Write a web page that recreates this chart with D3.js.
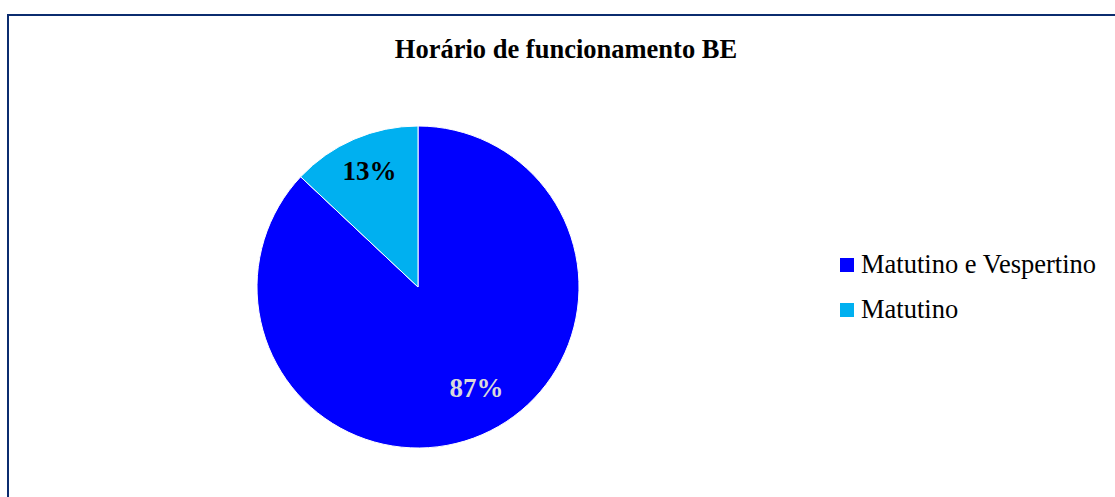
<!DOCTYPE html>
<html>
<head>
<meta charset="utf-8">
<script src="https://cdn.jsdelivr.net/npm/d3@7"></script>
<style>
  body { margin: 0; background: #fff; }
  text { font-family: "Liberation Serif", "Times New Roman", serif; }
</style>
</head>
<body>
<div id="chart"></div>
<script>
// Chart data
var categories = ["Matutino e Vespertino", "Matutino"];
var values = [87, 13];
var sliceColors = ["#0000ff", "#00b0f0"];
var labelColors = ["#d9d9d9", "#000000"];
var chartTitle = "Horário de funcionamento BE";

var svgW = 1115, svgH = 497;
var center = {x: 418, y: 287};
var radius = 161;

var svg = d3.select("#chart")
  .append("svg")
    .attr("width", svgW)
    .attr("height", svgH);

// Outer frame
svg.append("rect")
  .attr("x", 8)
  .attr("y", 15)
  .attr("width", svgW + 10)
  .attr("height", svgH + 10)
  .attr("fill", "white")
  .attr("stroke", "#0b2c6f")
  .attr("stroke-width", 2);

// Title
svg.append("text")
  .attr("x", 566)
  .attr("y", 58)
  .attr("text-anchor", "middle")
  .style("font-size", "26.5px")
  .style("font-weight", "bold")
  .text(chartTitle);

var data = categories.map(function(c, i) {
  return {cat: c, value: values[i], color: sliceColors[i], label: labelColors[i]};
});

var colorScale = d3.scaleOrdinal().domain(categories).range(sliceColors);

var pie = d3.pie()
  .value(function(d) { return d.value; })
  .sort(null);

var arc = d3.arc().innerRadius(0).outerRadius(radius);
var labelArc = d3.arc().innerRadius(radius * 0.76).outerRadius(radius * 0.76);

var g = svg.append("g")
  .attr("transform", "translate(" + center.x + "," + center.y + ")");

var slices = pie(data);

g.selectAll("path")
  .data(slices)
  .enter()
  .append("path")
    .attr("d", arc)
    .attr("fill", function(d) { return colorScale(d.data.cat); })
    .attr("stroke", "white")
    .attr("stroke-width", 1);

g.selectAll("text.lbl")
  .data(slices)
  .enter()
  .append("text")
    .attr("class", "lbl")
    .attr("transform", function(d) {
      var c = labelArc.centroid(d);
      // nudge the big slice label a bit toward the split, like Excel best-fit
      if (d.data.value > 50) c = [c[0] + 10, c[1] - 12];
      else c = [c[0], c[1] - 4];
      return "translate(" + c[0] + "," + c[1] + ")";
    })
    .attr("text-anchor", "middle")
    .attr("dy", "0.35em")
    .style("font-size", "27px")
    .style("font-weight", "bold")
    .attr("fill", function(d) { return d.data.label; })
    .text(function(d) { return d.data.value + "%"; });

// Legend
var legend = svg.append("g")
  .attr("transform", "translate(840,258)");

var rowH = 45;

legend.selectAll("rect")
  .data(data)
  .enter()
  .append("rect")
    .attr("x", 0)
    .attr("y", function(d, i) { return i * rowH; })
    .attr("width", 14)
    .attr("height", 14)
    .attr("fill", function(d) { return colorScale(d.cat); });

legend.selectAll("text")
  .data(data)
  .enter()
  .append("text")
    .attr("x", 21)
    .attr("y", function(d, i) { return i * rowH + 15; })
    .style("font-size", "26.5px")
    .attr("fill", "black")
    .text(function(d) { return d.cat; });
</script>
</body>
</html>
